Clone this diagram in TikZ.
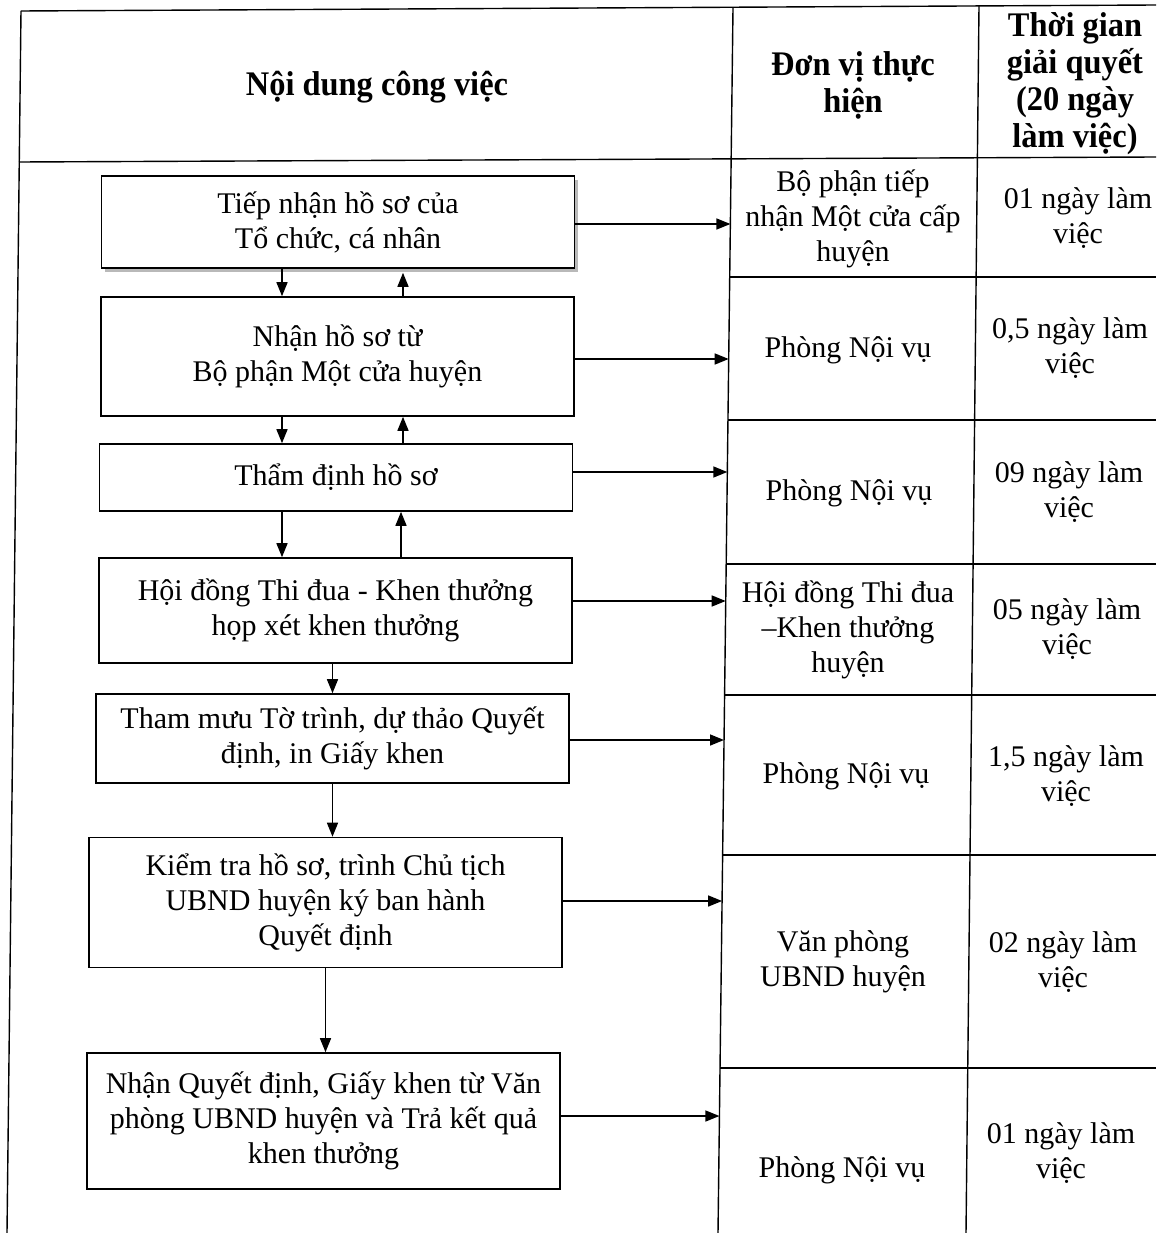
\documentclass[tikz,border=0pt]{standalone}
\usepackage{fontspec}
\setmainfont{Liberation Serif}
\newfontfamily\headfont{Liberation Serif}[FakeStretch=0.94]
\usetikzlibrary{arrows.meta, calc, shadows}
\newcommand{\bodysize}{\fontsize{30}{35}\selectfont}
\newcommand{\headsize}{\headfont\bfseries\fontsize{34.5}{37}\selectfont}
\tikzset{
	stepbox/.style ={rectangle, draw=black, fill=white, line width=1.6pt, minimum width=473pt, inner sep=0pt, align=center, font=\bodysize},
	celltxt/.style ={align=center, inner sep=0pt, font=\bodysize},
	headtxt/.style ={align=center, inner sep=0pt, font=\headsize},
	rule/.style    ={line width=1.4pt, black},
	flowarrow/.style={-{Triangle[length=14pt, width=11pt]}, line width=1.5pt},
}
\begin{document}
\begin{tikzpicture}[x=1pt, y=-1pt]
	\useasboundingbox[fill=white] (0,0) rectangle (1156,1233);
	% table rules
	\draw[rule] (21,11) -- (1156,5);
	\draw[rule] (19,162) -- (1156,157);
	\draw[rule] (21,11) -- (7,1233);
	\draw[rule] (733,8) -- (718,1233);
	\draw[rule] (979,6) -- (966,1233);
	\foreach \yy/\xx in {277/729.7, 420/728.0, 564/726.2, 695/724.6, 855/722.6, 1068/720.0}
		\draw[rule] (\xx,\yy) -- (1156,\yy);
	% header
	\node[headtxt] (hcontent) at (377,87) {Nội dung công việc};
	\node[headtxt] (hunit) at (853,85) {Đơn vị thực\\hiện};
	\node[headtxt] (htime) at (1075,84) {Thời gian\\giải quyết\\(20 ngày\\làm việc)};
	% steps
	\node[stepbox, minimum height=92pt, drop shadow={shadow xshift=3pt, shadow yshift=-4pt, fill=gray!55, opacity=1}] (b1) at (338,222) {Tiếp nhận hồ sơ của\\Tổ chức, cá nhân};
	\node[stepbox, minimum height=119pt] (b2) at (337.5,356.5) {Nhận hồ sơ từ\\Bộ phận Một cửa huyện};
	\node[stepbox, minimum height=67pt] (b3) at (336,477.5) {Thẩm định hồ sơ};
	\node[stepbox, minimum height=105pt] (b4) at (335.5,610.5) {Hội đồng Thi đua - Khen thưởng\\họp xét khen thưởng};
	\node[stepbox, minimum height=89pt] (b5) at (332.5,738.5) {Tham mưu Tờ trình, dự thảo Quyết\\định, in Giấy khen};
	\node[stepbox, minimum height=130pt] (b6) at (325.5,902.5) {Kiểm tra hồ sơ, trình Chủ tịch\\UBND huyện ký ban hành\\Quyết định};
	\node[stepbox, minimum height=136pt] (b7) at (323.5,1121) {Nhận Quyết định, Giấy khen từ Văn\\phòng UBND huyện và Trả kết quả\\khen thưởng};
	% units
	\node[celltxt] (u1) at (853,219) {Bộ phận tiếp\\nhận Một cửa cấp\\huyện};
	\node[celltxt] (u2) at (848,350) {Phòng Nội vụ};
	\node[celltxt] (u3) at (849,493) {Phòng Nội vụ};
	\node[celltxt] (u4) at (848,630) {Hội đồng Thi đua\\–Khen thưởng\\huyện};
	\node[celltxt] (u5) at (846,776) {Phòng Nội vụ};
	\node[celltxt] (u6) at (843,962) {Văn phòng\\UBND huyện};
	\node[celltxt] (u7) at (842,1170) {Phòng Nội vụ};
	% times
	\node[celltxt] (t1) at (1078,218) {01 ngày làm\\việc};
	\node[celltxt] (t2) at (1070,348) {0,5 ngày làm\\việc};
	\node[celltxt] (t3) at (1069,492) {09 ngày làm\\việc};
	\node[celltxt] (t4) at (1067,629) {05 ngày làm\\việc};
	\node[celltxt] (t5) at (1066,776) {1,5 ngày làm\\việc};
	\node[celltxt] (t6) at (1063,962) {02 ngày làm\\việc};
	\node[celltxt] (t7) at (1061,1153) {01 ngày làm\\việc};
	% arrows to the unit column
	\foreach \i/\xx/\yy in {1/730.4/224, 2/728.7/359, 3/727.3/472, 4/725.7/601, 5/724.0/740, 6/722.1/901, 7/719.4/1116}
		\coordinate (e\i) at (\xx,\yy);
	\foreach \i in {1,...,7}
		\draw[flowarrow] (e\i -| b\i.east) -- (e\i);
	% arrows between steps
	\coordinate (dnA) at (282,0);
	\coordinate (upA) at (403,0);
	\coordinate (upB) at (401,0);
	\draw[flowarrow] (b1.south -| dnA) -- (b2.north -| dnA);
	\draw[flowarrow] (b2.north -| upA) -- ([yshift=-4pt]b1.south -| upA);
	\draw[flowarrow] (b2.south -| dnA) -- (b3.north -| dnA);
	\draw[flowarrow] (b3.north -| upA) -- (b2.south -| upA);
	\draw[flowarrow] (b3.south -| dnA) -- (b4.north -| dnA);
	\draw[flowarrow] (b4.north -| upB) -- (b3.south -| upB);
	\draw[flowarrow] (b4.south -| b5.north) -- (b5.north);
	\draw[flowarrow] (b5.south) -- (b5.south |- b6.north);
	\draw[flowarrow] (b6.south) -- (b6.south |- b7.north);
\end{tikzpicture}
\end{document}
